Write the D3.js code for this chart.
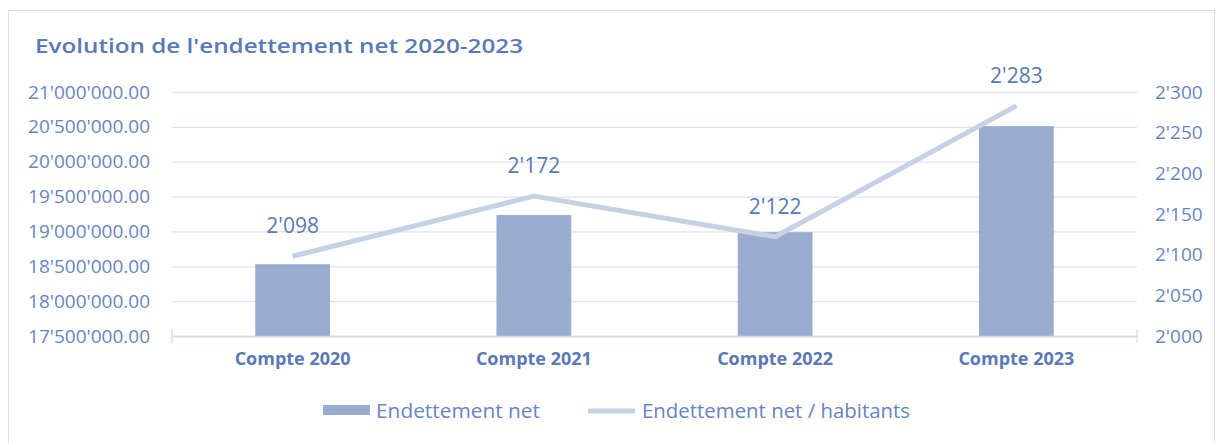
<!DOCTYPE html>
<html>
<head>
<meta charset="utf-8">
<script src="https://cdn.jsdelivr.net/npm/d3@7"></script>
<style>
  html, body { margin: 0; padding: 0; background: #ffffff; }
  svg { display: block; }
  text { font-family: "Open Sans", sans-serif; }
</style>
</head>
<body>
<svg id="chart" width="1222" height="443"></svg>
<script>
const categories = ["Compte 2020", "Compte 2021", "Compte 2022", "Compte 2023"];
const netDebt = [18530000, 19235000, 18990000, 20510000];
const debtPerInhabitant = [2098, 2172, 2122, 2283];
const leftTicks = [17500000, 18000000, 18500000, 19000000, 19500000, 20000000, 20500000, 21000000];
const rightTicks = [2000, 2050, 2100, 2150, 2200, 2250, 2300];
const titleText = "Evolution de l'endettement net 2020-2023";
const seriesNames = ["Endettement net", "Endettement net / habitants"];

const svg = d3.select("#chart");
const W = 1222, H = 443;
const plot = { left: 172, right: 1137, top: 92, bottom: 336 };

const barColor = "#9aabd0";
const lineColor = "#c6d1e5";
const textColor = "#5a79b5";
const axisTextColor = "#6985bf";
const gridColor = "#dfe3ef";

const locale = d3.formatLocale({ decimal: ".", thousands: "'", grouping: [3], currency: ["", ""] });
const fmtLeft = locale.format(",.2f");
const fmtRight = locale.format(",.0f");

// Frame
svg.append("rect")
  .attr("x", 8.5).attr("y", 10.5)
  .attr("width", 1206).attr("height", 440)
  .attr("fill", "none").attr("stroke", "#dcdde3").attr("stroke-width", 1);

// Title
svg.append("text")
  .attr("x", 35).attr("y", 53)
  .attr("fill", textColor)
  .attr("font-size", 20).attr("font-weight", 600)
  .attr("textLength", 488).attr("lengthAdjust", "spacingAndGlyphs")
  .text(titleText);

const x = d3.scaleBand().domain(categories)
  .range([plot.left, plot.right])
  .paddingInner(0.69).paddingOuter(0.345);

const yL = d3.scaleLinear().domain([17500000, 21000000]).range([plot.bottom, plot.top]);
const yR = d3.scaleLinear().domain([2000, 2300]).range([plot.bottom, plot.top]);

// Gridlines
svg.append("g")
  .attr("transform", `translate(${plot.left},0)`)
  .call(d3.axisLeft(yL).tickValues(leftTicks).tickSize(-(plot.right - plot.left)).tickFormat(""))
  .call(g => g.select(".domain").remove())
  .call(g => g.selectAll(".tick line").attr("stroke", gridColor).attr("stroke-width", 1.3));

// Left axis labels
svg.append("g")
  .attr("transform", `translate(150,0)`)
  .call(d3.axisLeft(yL).tickValues(leftTicks).tickSize(0).tickPadding(0).tickFormat(fmtLeft))
  .call(g => g.select(".domain").remove())
  .call(g => g.selectAll(".tick text")
    .attr("fill", axisTextColor).attr("font-size", 19)
    .attr("font-family", "'Open Sans', sans-serif"));

// Right axis labels
svg.append("g")
  .attr("transform", `translate(1155,0)`)
  .call(d3.axisRight(yR).tickValues(rightTicks).tickSize(0).tickPadding(0).tickFormat(fmtRight))
  .call(g => g.select(".domain").remove())
  .call(g => g.selectAll(".tick text")
    .attr("fill", axisTextColor).attr("font-size", 19)
    .attr("font-family", "'Open Sans', sans-serif"));

// Bars
svg.append("g").selectAll("rect")
  .data(categories)
  .join("rect")
  .attr("x", d => x(d))
  .attr("width", x.bandwidth())
  .attr("y", (d, i) => yL(netDebt[i]))
  .attr("height", (d, i) => yL(17500000) - yL(netDebt[i]))
  .attr("fill", barColor);

// Baseline axis
svg.append("g")
  .attr("transform", `translate(0,${plot.bottom})`)
  .call(d3.axisBottom(x).tickSize(0).tickPadding(0).tickFormat(""))
  .call(g => g.select(".domain").attr("stroke", "#d6dae6").attr("stroke-width", 1.3));

// End caps
[plot.left, plot.right].forEach(px => {
  svg.append("line")
    .attr("x1", px).attr("x2", px)
    .attr("y1", plot.bottom - 7).attr("y2", plot.bottom + 7)
    .attr("stroke", "#d6dae6").attr("stroke-width", 1.3);
});

// Category labels
svg.append("g").selectAll("text")
  .data(categories)
  .join("text")
  .attr("x", d => x(d) + x.bandwidth() / 2)
  .attr("y", 365)
  .attr("text-anchor", "middle")
  .attr("fill", textColor)
  .attr("font-size", 18).attr("font-weight", 700)
  .text(d => d);

// Line
const cx = (d, i) => x(categories[i]) + x.bandwidth() / 2;
const line = d3.line()
  .x((d, i) => x(categories[i]) + x.bandwidth() / 2)
  .y(d => yR(d));
svg.append("path")
  .datum(debtPerInhabitant)
  .attr("d", line)
  .attr("fill", "none")
  .attr("stroke", lineColor)
  .attr("stroke-width", 5)
  .attr("stroke-linejoin", "round");

// Data labels
svg.append("g").selectAll("text")
  .data(debtPerInhabitant)
  .join("text")
  .attr("x", (d, i) => cx(d, i))
  .attr("y", d => yR(d) - 23)
  .attr("text-anchor", "middle")
  .attr("fill", textColor)
  .attr("font-size", 21)
  .text(d => fmtRight(d));

// Legend
const lg = svg.append("g");
lg.append("rect")
  .attr("x", 323).attr("y", 405).attr("width", 47).attr("height", 10)
  .attr("fill", barColor);
lg.append("text")
  .attr("x", 376).attr("y", 418)
  .attr("fill", axisTextColor).attr("font-size", 20)
  .attr("textLength", 164).attr("lengthAdjust", "spacingAndGlyphs")
  .text(seriesNames[0]);
lg.append("line")
  .attr("x1", 588).attr("x2", 635).attr("y1", 411).attr("y2", 411)
  .attr("stroke", lineColor).attr("stroke-width", 5);
lg.append("text")
  .attr("x", 642).attr("y", 418)
  .attr("fill", axisTextColor).attr("font-size", 20)
  .attr("textLength", 268).attr("lengthAdjust", "spacingAndGlyphs")
  .text(seriesNames[1]);
</script>
</body>
</html>
